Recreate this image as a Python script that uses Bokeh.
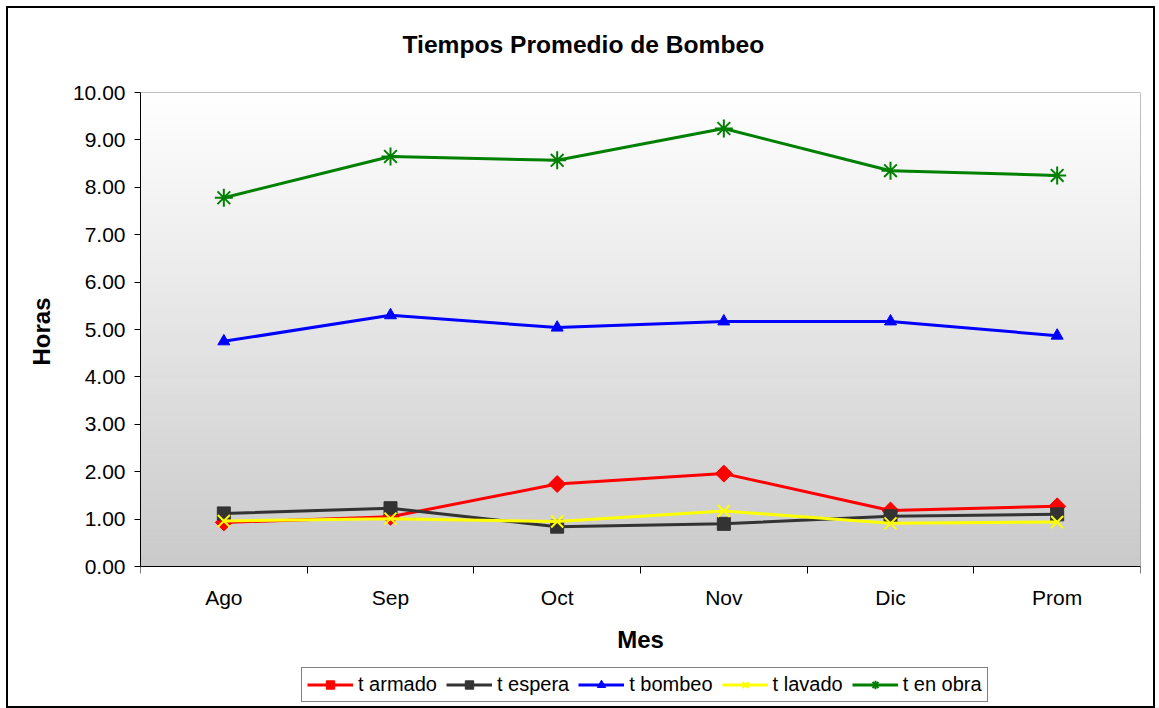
import numpy as np
from bokeh.plotting import figure
from bokeh.models import (Range1d, FixedTicker, PrintfTickFormatter, Legend, LegendItem, Title)
from bokeh.embed import file_html
from bokeh.resources import INLINE

months = ["Ago", "Sep", "Oct", "Nov", "Dic", "Prom"]
t_armado = [0.93, 1.05, 1.74, 1.96, 1.18, 1.27]
t_espera = [1.12, 1.23, 0.84, 0.90, 1.06, 1.10]
t_bombeo = [4.75, 5.30, 5.04, 5.17, 5.17, 4.87]
t_lavado = [0.96, 1.01, 0.95, 1.17, 0.91, 0.94]
t_en_obra = [7.78, 8.65, 8.57, 9.24, 8.35, 8.25]
y_ticks = [0, 1, 2, 3, 4, 5, 6, 7, 8, 9, 10]

FONT = "Liberation Sans"
Y_MAX = 10
PX_PER_UNIT = 47.4
FRAME_H = 614
y_start = Y_MAX - FRAME_H / PX_PER_UNIT

title = Title(text="Tiempos Promedio de Bombeo", align="left", offset=262,
              text_font=FONT, text_font_size="24.6px", text_font_style="bold",
              text_color="black", standoff=0)

p = figure(frame_width=1000, frame_height=FRAME_H, output_backend="svg",
           toolbar_location=None, title=title,
           x_range=Range1d(0, len(months)), y_range=Range1d(y_start, Y_MAX),
           min_border_left=132, min_border_top=84, min_border_right=13,
           min_border_bottom=0)
p.styles = {"border": "2px solid black", "margin": "6px 0 0 6px"}
p.background_fill_color = "white"
p.border_fill_color = "white"
p.outline_line_color = None
p.xgrid.visible = False
p.ygrid.visible = False

# spacer between the plot area and the title
p.add_layout(Title(text=" ", text_font_size="1px", standoff=32), "above")

# gradient plot-area background (white -> light gray)
n = 120
edges = np.linspace(0, Y_MAX, n + 1)
cols = []
for i in range(n):
    frac = 1 - (edges[i] + edges[i + 1]) / (2.0 * Y_MAX)
    g = int(round(255 - 53 * frac))
    cols.append("#%02x%02x%02x" % (g, g, g))
p.quad(left=0, right=len(months), bottom=edges[:-1], top=edges[1:],
       fill_color=cols, line_color=cols, line_width=1)
# plot-area border
p.quad(left=0, right=len(months), bottom=0, top=Y_MAX,
       fill_color=None, line_color="#808080", line_width=1)

xs = np.arange(len(months)) + 0.5

# axes
yax = p.yaxis[0]
yax.bounds = (0, Y_MAX)
yax.ticker = FixedTicker(ticks=y_ticks)
yax.formatter = PrintfTickFormatter(format="%.2f")
yax.axis_line_color = "black"
yax.major_tick_line_color = "black"
yax.major_tick_out = 6
yax.major_tick_in = 0
yax.minor_tick_line_color = None
yax.major_label_text_font = FONT
yax.major_label_text_font_size = "21px"
yax.major_label_text_color = "black"
yax.major_label_standoff = 9

# y-axis title, centred on the 0-10 plot area
p.add_layout(Title(text="Horas", align="right", offset=205,
                   text_font=FONT, text_font_size="24px", text_font_style="bold",
                   text_color="black", standoff=30), "left")

xax = p.xaxis[0]
xax.fixed_location = 0
xax.ticker = FixedTicker(ticks=list(xs), minor_ticks=list(range(len(months) + 1)))
xax.major_label_overrides = {float(x): m for x, m in zip(xs, months)}
xax.axis_line_color = "black"
xax.major_tick_line_color = None
xax.major_tick_out = 0
xax.major_tick_in = 0
xax.minor_tick_line_color = "black"
xax.minor_tick_out = 7
xax.minor_tick_in = 0
xax.major_label_text_font = FONT
xax.major_label_text_font_size = "21px"
xax.major_label_text_color = "black"
xax.major_label_standoff = 12
xax.axis_label = "Mes"
xax.axis_label_text_font = FONT
xax.axis_label_text_font_size = "24px"
xax.axis_label_text_font_style = "bold"
xax.axis_label_text_color = "black"
xax.axis_label_standoff = 14

# (name, values, color, marker, size, angle)
series = [
    ("t armado", t_armado, "#FF0000", "square", 12, np.pi / 4),
    ("t espera", t_espera, "#333333", "square", 13, 0.0),
    ("t bombeo", t_bombeo, "#0000FF", "triangle", 12, 0.0),
    ("t lavado", t_lavado, "#FFFF00", "x", 17, 0.0),
    ("t en obra", t_en_obra, "#008000", "asterisk", 18, 0.0),
]
items = []
for name, vals, color, marker, size, ang in series:
    r1 = p.line(xs, vals, line_color=color, line_width=3)
    r2 = p.scatter(xs, vals, marker=marker, size=size, angle=ang,
                   fill_color=color, line_color=color,
                   line_width=2 if marker in ("x", "asterisk") else 1)
    items.append(LegendItem(label=name, renderers=[r1, r2]))

legend = Legend(items=items, orientation="horizontal", location=(161, 4),
                border_line_color="black", border_line_width=1,
                background_fill_color="white", background_fill_alpha=1,
                label_text_font=FONT, label_text_font_size="20px",
                label_text_color="black", glyph_width=46, glyph_height=21,
                label_standoff=5, spacing=9, padding=5, margin=0)
p.add_layout(legend, "center")

open("out.html", "w").write(file_html(p, INLINE))
